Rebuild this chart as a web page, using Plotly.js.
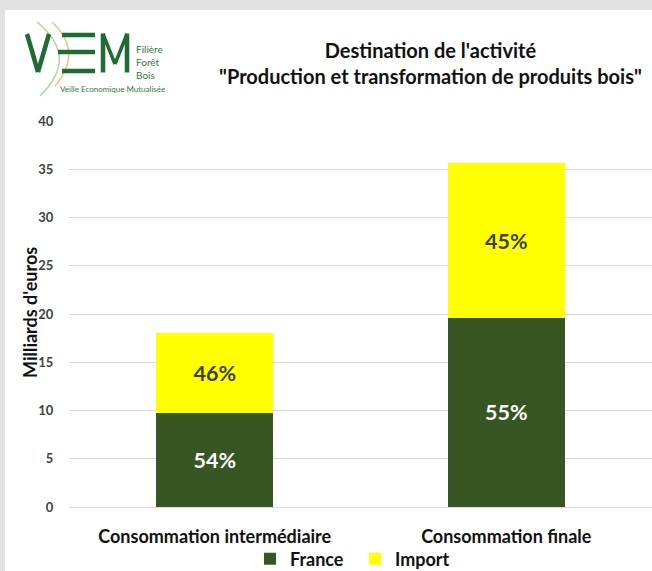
<!DOCTYPE html>
<html>
<head>
<meta charset="utf-8">
<script src="https://cdn.plot.ly/plotly-3.0.1.min.js"></script>
<style>
  html, body { margin: 0; padding: 0; background: #e2e2e2; width: 652px; height: 571px; overflow: hidden; }
  #chart { position: absolute; left: 5px; top: 10px; width: 647px; height: 561px; background: #ffffff; }
</style>
</head>
<body>
<div id="chart"></div>
<script>
// ---- data ----
const categories = ["Consommation intermédiaire", "Consommation finale"];
const franceValues = [9.7, 19.6];
const importValues = [8.3, 16.0];
const seriesNames = ["France", "Import"];
const yTicks = [0, 5, 10, 15, 20, 25, 30, 35, 40];

const FONT = "Lato, 'Open Sans', sans-serif";
const totals = franceValues.map((v, i) => v + importValues[i]);
const pct = (v, i) => Math.round(100 * v / totals[i]) + "%";

// plot-area geometry in div pixels (for decoration placement only)
const W = 647, H = 561, L = 64, R = 0, T = 111, B = 64;
const PW = W - L - R, PH = H - T - B;
const px = x => (x - 5 - L) / PW;          // page x -> paper
const py = y => (H - B - (y - 10)) / PH;   // page y -> paper

const traces = [
  {
    type: "bar", name: seriesNames[0], x: categories, y: franceValues,
    marker: { color: "#375623" },
    text: franceValues.map(pct), textposition: "inside", insidetextanchor: "middle",
    textfont: { family: FONT, size: 21.5, color: "#ffffff", weight: "bold" },
    constraintext: "none", hoverinfo: "none"
  },
  {
    type: "bar", name: seriesNames[1], x: categories, y: importValues,
    marker: { color: "#ffff00" },
    text: importValues.map(pct), textposition: "inside", insidetextanchor: "middle",
    textfont: { family: FONT, size: 21.5, color: "#404040", weight: "bold" },
    constraintext: "none", hoverinfo: "none"
  }
];

const green = "#1e6b34";
function line(x0, y0, x1, y1, w) {
  return { type: "line", xref: "paper", yref: "paper", x0: px(x0), y0: py(y0), x1: px(x1), y1: py(y1),
           line: { color: green, width: w } };
}
function arc(pts, color) {
  const p = pts.map((q, i) => (i === 0 ? "M" : (i === 1 ? "Q" : "")) + px(q[0]) + "," + py(q[1])).join(" ");
  return { type: "path", xref: "paper", yref: "paper", path: p, line: { color: color, width: 1.4 } };
}

const shapes = [
  arc([[37, 22], [80, 57], [40, 96]], "#a9d690"),
  arc([[52, 22], [84, 52], [55, 86]], "#f2c27a"),
  // V
  line(27, 34, 38, 72, 4.5), line(38, 72, 49, 34, 4.5),
  // E (horizontal bars)
  line(62, 35, 95, 35, 4.5), line(58, 52, 95, 52, 4.5), line(62, 71, 95, 71, 4.5),
  // M
  line(103, 72.5, 103, 33.5, 4.5), line(103, 34, 115, 64, 3.5), line(115, 64, 127, 34, 3.5), line(127, 33.5, 127, 72.5, 4.5)
];

const annotations = [
  { xref: "paper", yref: "paper", x: px(430), y: py(63), xanchor: "center", yanchor: "middle",
    text: "<b>Destination de l'activité<br>\"Production et transformation de produits bois\"</b>",
    showarrow: false, font: { family: FONT, size: 20, color: "#111111" }, align: "center" },
  { xref: "paper", yref: "paper", x: px(30), y: py(313), xanchor: "center", yanchor: "middle",
    text: "<b>Milliards d'euros</b>", textangle: -90, showarrow: false,
    font: { family: FONT, size: 18, color: "#111111" } },
  { xref: "paper", yref: "paper", x: px(134), y: py(62), xanchor: "left", yanchor: "middle",
    text: "Filière<br>Forêt<br>Bois", showarrow: false, align: "left",
    font: { family: FONT, size: 10, color: "#2e7d3c" } },
  { xref: "paper", yref: "paper", x: px(58), y: py(89), xanchor: "left", yanchor: "middle",
    text: "Veille Economique Mutualisée", showarrow: false,
    font: { family: FONT, size: 8, color: "#2e7d3c" } }
];

const layout = {
  width: W, height: H,
  margin: { l: L, r: R, t: T, b: B, pad: 0, autoexpand: false },
  paper_bgcolor: "#ffffff", plot_bgcolor: "#ffffff",
  barmode: "stack", bargap: 0.6,
  showlegend: true,
  legend: { orientation: "h", xref: "paper", yref: "container", x: px(355), xanchor: "center",
            y: 1 - (559 - 10) / H, yanchor: "middle",
            font: { family: FONT, size: 18, color: "#111111", weight: "bold" },
            traceorder: "normal", itemwidth: 30, entrywidth: 60, itemsizing: "constant", bgcolor: "rgba(0,0,0,0)" },
  xaxis: {
    type: "category", showgrid: false, zeroline: false, showline: true, linecolor: "#d9d9d9", linewidth: 1,
    ticks: "outside", ticklen: 13, tickcolor: "rgba(0,0,0,0)", automargin: false,
    tickfont: { family: FONT, size: 18, color: "#111111", weight: "bold" }, fixedrange: true
  },
  yaxis: {
    range: [0, 40], tickvals: yTicks, ticktext: yTicks.map(String), automargin: false,
    showgrid: true, gridcolor: "#d9d9d9", gridwidth: 1, zeroline: false, showline: false,
    ticks: "outside", ticklen: 12, tickcolor: "rgba(0,0,0,0)",
    tickfont: { family: FONT, size: 13, color: "#404040", weight: "bold" }, fixedrange: true
  },
  shapes: shapes,
  annotations: annotations,
  font: { family: FONT }
};

Plotly.newPlot("chart", traces, layout, { displayModeBar: false, staticPlot: true });
</script>
</body>
</html>
